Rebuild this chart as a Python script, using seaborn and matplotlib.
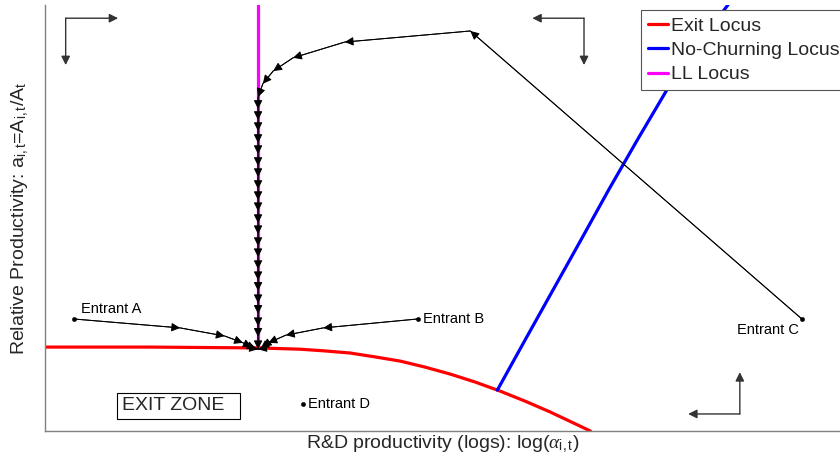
import numpy as np
import pandas as pd
import matplotlib
matplotlib.use('Agg')
import matplotlib.pyplot as plt
import seaborn as sns

# loci (axis units 0..10 on both axes)
exit_x = [0.0, 1.32, 2.68, 3.21, 3.52, 3.84, 4.15, 4.47, 4.78, 5.09, 5.41, 5.72, 6.04, 6.35, 6.60, 6.86]
exit_y = [1.97, 1.97, 1.95, 1.92, 1.88, 1.83, 1.74, 1.64, 1.50, 1.34, 1.15, 0.94, 0.70, 0.45, 0.23, 0.0]
nochurn_x = [5.69, 6.04, 6.39, 6.74, 7.09, 7.45, 7.82, 8.20, 8.59]
nochurn_y = [0.96, 2.14, 3.31, 4.48, 5.66, 6.83, 8.00, 9.06, 10.0]
ll_x = [2.68, 2.68]
ll_y = [1.95, 10.0]

# entrant trajectories
traj_a_x = [0.36, 1.70, 2.26, 2.49, 2.60, 2.65, 2.68]
traj_a_y = [2.63, 2.42, 2.23, 2.07, 1.97, 1.93, 1.92]
traj_b_x = [4.69, 3.50, 3.03, 2.81, 2.74, 2.71, 2.68]
traj_b_y = [2.63, 2.42, 2.25, 2.07, 1.97, 1.93, 1.92]
traj_c_x = [9.52, 5.35, 3.77, 3.12, 2.87, 2.74, 2.68] + [2.68] * 22
traj_c_y = [2.63, 9.39, 9.13, 8.76, 8.45, 8.15, 7.84,
            7.56, 7.30, 7.04, 6.76, 6.50, 6.22, 5.96, 5.68, 5.42, 5.16, 4.88,
            4.62, 4.34, 4.08, 3.80, 3.54, 3.29, 3.00, 2.75, 2.46, 2.21, 1.92]
entrant_names = ['Entrant A', 'Entrant B', 'Entrant C', 'Entrant D']
entrant_x = [0.36, 4.69, 9.52, 3.25]
entrant_y = [2.63, 2.63, 2.63, 0.63]

sns.set_theme(style='white')
plt.rcParams['font.family'] = ['Liberation Sans', 'DejaVu Sans']
plt.rcParams['mathtext.fontset'] = 'custom'
plt.rcParams['mathtext.rm'] = 'Liberation Sans'
plt.rcParams['mathtext.it'] = 'Liberation Serif:italic'

fig = plt.figure(figsize=(8.4, 4.66), dpi=100)
ax = fig.add_axes([45 / 840, 35 / 466, 795 / 840, 426 / 466])

loci = pd.concat([
    pd.DataFrame({'x': exit_x, 'y': exit_y, 'locus': 'Exit Locus'}),
    pd.DataFrame({'x': nochurn_x, 'y': nochurn_y, 'locus': 'No-Churning Locus'}),
    pd.DataFrame({'x': ll_x, 'y': ll_y, 'locus': 'LL Locus'}),
])
sns.lineplot(data=loci, x='x', y='y', hue='locus', sort=False, estimator=None,
             palette={'Exit Locus': '#ff0000', 'No-Churning Locus': '#0000ff',
                      'LL Locus': '#ff00ff'},
             lw=2.3, ax=ax, zorder=2)

# trajectories with arrowheads at every step
for tx, ty in [(traj_a_x, traj_a_y), (traj_b_x, traj_b_y), (traj_c_x, traj_c_y)]:
    sns.lineplot(x=tx, y=ty, sort=False, estimator=None, color='black', lw=0.7,
                 ax=ax, zorder=3, legend=False)
    for i in range(1, len(tx)):
        ax.annotate('', xy=(tx[i], ty[i]), xytext=(tx[i - 1], ty[i - 1]),
                    arrowprops=dict(arrowstyle='-|>', color='black', lw=0.7,
                                    mutation_scale=13, shrinkA=0, shrinkB=0),
                    zorder=4)

sns.scatterplot(x=entrant_x, y=entrant_y, color='black', s=10, ax=ax, zorder=5,
                legend=False, edgecolor='black')
offsets = [(5, 2), (4, 0), (-2, -8), (3, 0)]
aligns = [('left', 'bottom'), ('left', 'center'), ('right', 'center'), ('left', 'center')]
for name, x, y, off, al in zip(entrant_names, entrant_x, entrant_y, offsets, aligns):
    ax.annotate(name, (x, y), xytext=off, textcoords='offset points',
                ha=al[0], va=al[1], fontsize=10.5, color='black')

# direction arrows in corners
corner_kw = dict(arrowstyle='-|>', color='#333333', lw=1.0, mutation_scale=13,
                 shrinkA=0, shrinkB=0)
for cx, cy, hx, vy in [(0.26, 9.69, 0.92, 8.59), (6.78, 9.69, 6.13, 8.59),
                       (8.74, 0.40, 8.09, 1.38)]:
    ax.annotate('', xy=(hx, cy), xytext=(cx, cy), arrowprops=corner_kw)
    ax.annotate('', xy=(cx, vy), xytext=(cx, cy), arrowprops=corner_kw)

ax.text(0.97, 0.59, 'EXIT ZONE  ', fontsize=14, ha='left', va='center',
        bbox=dict(boxstyle='square,pad=0.25', fc='white', ec='black', lw=0.8))

ax.set_xlim(0, 10)
ax.set_ylim(0, 10)
ax.set_xticks([])
ax.set_yticks([])
for side in ['top', 'right']:
    ax.spines[side].set_visible(False)
for side in ['left', 'bottom']:
    ax.spines[side].set_color('#808080')
    ax.spines[side].set_linewidth(1.0)

ax.set_xlabel(r'R&D productivity (logs): log($\alpha_{\rm i,t}$)', fontsize=14, labelpad=2)
ax.set_ylabel(r'Relative Productivity: a$_{\rm i,t}$=A$_{\rm i,t}$/A$_{\rm t}$',
              fontsize=14, labelpad=10)

leg = ax.legend(loc='upper left', bbox_to_anchor=(0.75, 0.988), fontsize=14,
                frameon=True, fancybox=False, framealpha=1, edgecolor='#555555',
                handlelength=1.0, handletextpad=0.2, borderpad=0.35,
                labelspacing=0.35, borderaxespad=0)
leg.get_frame().set_linewidth(0.8)
leg.set_zorder(10)

fig.savefig('out.png', dpi=100)
